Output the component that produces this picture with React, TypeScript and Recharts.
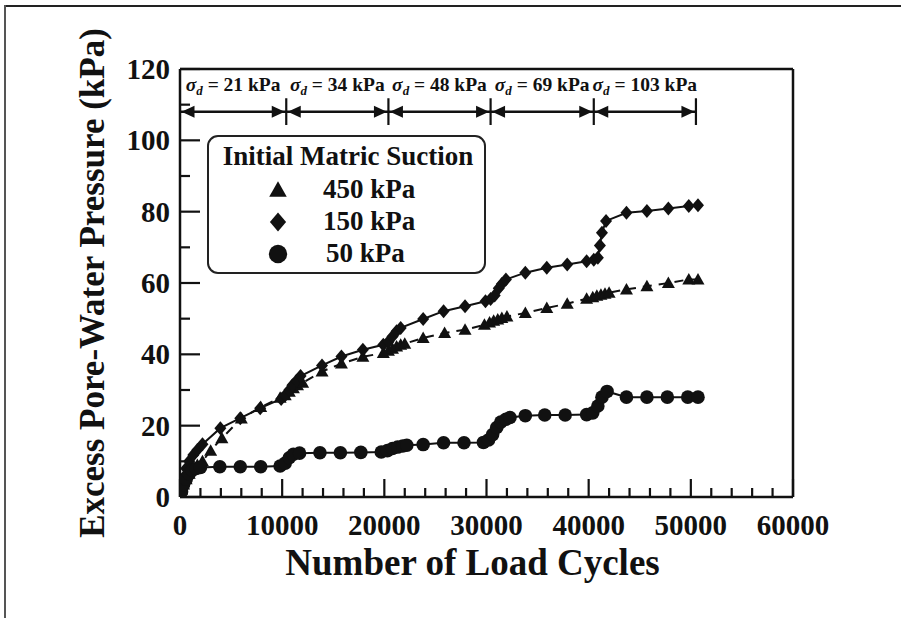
import React from 'react';
import {
  ComposedChart,
  Line,
  XAxis,
  YAxis,
  ReferenceLine,
  ReferenceDot,
  Legend,
} from 'recharts';

// 450 kPa initial matric suction (triangles, dashed)
const cycles450 = [0, 150, 350, 600, 900, 1300, 1700, 2200, 3000, 4100, 6000, 7900, 9800, 10300, 10700, 11100, 11500, 12000, 13900, 15800, 17900, 19900, 20400, 20800, 21200, 21600, 22000, 23800, 25900, 27900, 29800, 30300, 30700, 31100, 31500, 32000, 33800, 35900, 37900, 39800, 40400, 40800, 41200, 41600, 42000, 43700, 45700, 47800, 49800, 50700];
const pressure450 = [0, 2, 3.5, 5, 6.5, 8, 9, 10, 13, 16.5, 22, 25.2, 27.8, 28.5, 29.5, 30.5, 31.3, 32, 35.2, 37.4, 39.3, 40.4, 41, 41.6, 42.2, 42.7, 43, 44.6, 46, 46.9, 48.3, 48.9, 49.4, 49.8, 50.2, 50.6, 51.6, 53, 54.2, 55.6, 56, 56.4, 56.7, 57, 57.3, 58.2, 59.1, 60, 61, 61];

// 150 kPa (diamonds, solid)
const cycles150 = [0, 150, 350, 600, 900, 1300, 1700, 2200, 3950, 5900, 7850, 9900, 10300, 10700, 11000, 11400, 11800, 13900, 15800, 17900, 19900, 20400, 20800, 21200, 21600, 23800, 25800, 27900, 29900, 30400, 30800, 31200, 31500, 31900, 33800, 35900, 37900, 39800, 40500, 40900, 41100, 41300, 41700, 43700, 45700, 47800, 49800, 50700];
const pressure150 = [0, 3, 5.5, 8, 10, 11.8, 13.2, 14.8, 19.3, 22.1, 24.9, 27.5, 28.5, 30, 31.3, 32.6, 33.9, 36.9, 39.4, 41.3, 42.7, 43.5, 45, 46.5, 47.4, 49.9, 52.1, 53.5, 54.9, 55.5, 56.5, 58.5, 59.7, 61, 62.9, 64.3, 65.2, 66.1, 66.5, 67.1, 70.5, 74.1, 77.4, 79.7, 80.2, 80.9, 81.6, 81.8];

// 50 kPa (circles, solid)
const cycles50 = [0, 150, 350, 600, 900, 1200, 1600, 2000, 3900, 5900, 7900, 9800, 10300, 10700, 11100, 11700, 13700, 15700, 17700, 19700, 20300, 20800, 21300, 21800, 22200, 23800, 25800, 27800, 29700, 30200, 30600, 31000, 31400, 31900, 32300, 33800, 35700, 37700, 39800, 40400, 40900, 41300, 41800, 43700, 45700, 47700, 49700, 50700];
const pressure50 = [0, 1.5, 3.5, 5, 6.5, 7.5, 8, 8.3, 8.5, 8.5, 8.5, 8.7, 9.5, 11, 12, 12.3, 12.4, 12.4, 12.5, 12.6, 13, 13.6, 14, 14.3, 14.5, 14.7, 15.2, 15.2, 15.3, 16, 17.5, 19.5, 21, 21.8, 22.3, 22.8, 23, 23, 23.1, 23.6, 25.5, 28, 29.6, 28, 28, 28, 28, 28];

const seriesNames = ['450 kPa', '150 kPa', '50 kPa'];

// loading stages shown across the top
const stageBounds = [0, 10400, 20400, 30400, 40500, 50500];
const deviatorStress = ['21', '34', '48', '69', '103'];

const xMajorTicks = [0, 10000, 20000, 30000, 40000, 50000, 60000];
const xMinorTicks = [2000, 4000, 6000, 8000, 12000, 14000, 16000, 18000, 22000, 24000, 26000, 28000, 32000, 34000, 36000, 38000, 42000, 44000, 46000, 48000, 52000, 54000, 56000, 58000];
const yMajorTicks = [0, 20, 40, 60, 80, 100, 120];
const yMinorTicks = [10, 30, 50, 70, 90, 110];

const X_MAX = 60000;
const Y_MAX = 120;
// plot box is 613 x 428 px: minor tick lengths in axis units
const X_MINOR_LEN = (10 * X_MAX) / 613;
const Y_MINOR_LEN = (9 * Y_MAX) / 428;

const toPoints = (xs: number[], ys: number[]) => xs.map((x, i) => ({ cycles: x, pressure: ys[i] }));
const data450 = toPoints(cycles450, pressure450);
const data150 = toPoints(cycles150, pressure150);
const data50 = toPoints(cycles50, pressure50);

const FONT = "'Liberation Serif', 'Times New Roman', serif";
const INK = '#111';
const AXIS_LINE = { stroke: INK, strokeWidth: 2.5 };
const TICK_LINE = { stroke: INK, strokeWidth: 2.2 };

const Triangle = ({ cx, cy, s = 1 }: any) => (
  <path d={`M${cx},${cy - 6.5 * s}L${cx + 6.5 * s},${cy + 5 * s}L${cx - 6.5 * s},${cy + 5 * s}Z`} fill={INK} />
);
const Diamond = ({ cx, cy, s = 1 }: any) => (
  <path d={`M${cx},${cy - 7 * s}L${cx + 6 * s},${cy}L${cx},${cy + 7 * s}L${cx - 6 * s},${cy}Z`} fill={INK} />
);
const Circle = ({ cx, cy, s = 1 }: any) => <circle cx={cx} cy={cy} r={6.8 * s} fill={INK} />;

const markers = [Triangle, Diamond, Circle];
const dotOf = (Shape: any) => (p: any) => <Shape key={`d-${p.index}`} cx={p.cx} cy={p.cy} />;

const XTick = ({ x, y, payload }: any) => (
  <text x={x} y={y + 38} textAnchor="middle" fontFamily={FONT} fontWeight="bold" fontSize={29} fill={INK}>
    {payload.value}
  </text>
);
const YTick = ({ x, y, payload }: any) => (
  <text x={x - 10} y={y + 10} textAnchor="end" fontFamily={FONT} fontWeight="bold" fontSize={29} fill={INK}>
    {payload.value}
  </text>
);

const LegendBox = () => (
  <svg width={280} height={140} style={{ display: 'block' }}>
    <rect x={1} y={1} width={277} height={137} rx={10} fill="#fff" stroke="#222" strokeWidth={2} />
    <text x={141} y={30} textAnchor="middle" fontFamily={FONT} fontWeight="bold" fontSize={27} fill={INK}>
      Initial Matric Suction
    </text>
    {seriesNames.map((name, i) => {
      const Shape = markers[i];
      return (
        <g key={name}>
          <Shape cx={71} cy={55 + i * 32} s={1.35} />
          <text x={116 + (i === 2 ? 3 : 0)} y={63 + i * 32} fontFamily={FONT} fontWeight="bold" fontSize={27} fill={INK}>
            {name}
          </text>
        </g>
      );
    })}
  </svg>
);

const ArrowHead = ({ cx, cy, dir }: any) => {
  const tip = cx + dir * -1.5;
  return <path d={`M${tip},${cy}L${tip - dir * 13},${cy - 6}L${tip - dir * 13},${cy + 6}Z`} fill={INK} />;
};

const StageLabel = ({ cx, cy, stress }: any) => (
  <text x={cx} y={cy} textAnchor="middle" fontFamily={FONT} fontWeight="bold" fontSize={19.5} fill={INK}>
    <tspan fontStyle="italic">σ</tspan>
    <tspan fontStyle="italic" fontSize={13} dy={4}>d</tspan>
    <tspan dy={-4}>{` = ${stress} kPa`}</tspan>
  </text>
);

export default function App() {
  const arrowY = 108;
  return (
    <div style={{ position: 'absolute', left: 0, top: 0, width: 901, height: 618, background: '#fff' }}>
      <div style={{ position: 'absolute', left: 5, top: 5, right: 0, height: 2, background: '#222' }} />
      <div style={{ position: 'absolute', left: 4, top: 5, bottom: 0, width: 2, background: '#555' }} />
      <ComposedChart width={901} height={618} margin={{ top: 69, right: 108, bottom: 41, left: 0 }}>
        {/* main axes: inward major ticks, labels outside */}
        <XAxis
          type="number"
          dataKey="cycles"
          domain={[0, X_MAX]}
          ticks={xMajorTicks}
          interval={0}
          tickSize={-18}
          tickMargin={18}
          axisLine={AXIS_LINE}
          tickLine={TICK_LINE}
          tick={<XTick />}
          height={80}
          allowDataOverflow
          label={{
            content: ({ viewBox }: any) => (
              <text x={viewBox.x + viewBox.width / 2 - 14} y={viewBox.y + 78} textAnchor="middle" fontFamily={FONT} fontWeight="bold" fontSize={37} fill={INK}>
                Number of Load Cycles
              </text>
            ),
          }}
        />
        <YAxis
          type="number"
          domain={[0, Y_MAX]}
          ticks={yMajorTicks}
          interval={0}
          tickSize={-20}
          tickMargin={20}
          axisLine={AXIS_LINE}
          tickLine={TICK_LINE}
          tick={<YTick />}
          width={180}
          allowDataOverflow
          label={{
            content: ({ viewBox }: any) => {
              const cy = viewBox.y + viewBox.height / 2;
              return (
                <text x={104} y={cy} transform={`rotate(-90 104 ${cy})`} textAnchor="middle" fontFamily={FONT} fontWeight="bold" fontSize={35} fill={INK}>
                  Excess Pore-Water Pressure (kPa)
                </text>
              );
            },
          }}
        />
        {/* top and right of the frame */}
        <XAxis xAxisId="top" orientation="top" type="number" domain={[0, X_MAX]} mirror tick={false} tickLine={false} axisLine={AXIS_LINE} allowDataOverflow />
        <YAxis yAxisId="right" orientation="right" type="number" domain={[0, Y_MAX]} mirror tick={false} tickLine={false} axisLine={AXIS_LINE} allowDataOverflow />

        {/* minor inward ticks */}
        {xMinorTicks.map((t) => (
          <ReferenceLine key={`xm-${t}`} segment={[{ x: t, y: 0 }, { x: t, y: Y_MINOR_LEN }]} stroke={INK} strokeWidth={2.2} />
        ))}
        {yMinorTicks.map((t) => (
          <ReferenceLine key={`ym-${t}`} segment={[{ x: 0, y: t }, { x: X_MINOR_LEN, y: t }]} stroke={INK} strokeWidth={2.2} />
        ))}

        {/* loading stages */}
        {deviatorStress.map((s, i) => (
          <ReferenceLine
            key={`seg-${i}`}
            segment={[{ x: stageBounds[i], y: arrowY }, { x: stageBounds[i + 1], y: arrowY }]}
            stroke={INK}
            strokeWidth={2.5}
          />
        ))}
        {stageBounds.slice(1).map((b) => (
          <ReferenceLine key={`bar-${b}`} segment={[{ x: b, y: 104.3 }, { x: b, y: 111.8 }]} stroke={INK} strokeWidth={2.2} />
        ))}
        {deviatorStress.map((s, i) => (
          <ReferenceDot key={`l-${i}`} x={stageBounds[i]} y={arrowY} r={0} shape={(p: any) => <ArrowHead cx={p.cx} cy={p.cy} dir={-1} />} />
        ))}
        {deviatorStress.map((s, i) => (
          <ReferenceDot key={`r-${i}`} x={stageBounds[i + 1]} y={arrowY} r={0} shape={(p: any) => <ArrowHead cx={p.cx} cy={p.cy} dir={1} />} />
        ))}
        {deviatorStress.map((s, i) => (
          <ReferenceDot
            key={`t-${i}`}
            x={(stageBounds[i] + stageBounds[i + 1]) / 2}
            y={113.8}
            r={0}
            shape={(p: any) => <StageLabel cx={p.cx} cy={p.cy} stress={s} />}
          />
        ))}

        <Line data={data450} dataKey="pressure" name={seriesNames[0]} type="linear" stroke={INK} strokeWidth={2} strokeDasharray="9 7" dot={dotOf(Triangle)} isAnimationActive={false} />
        <Line data={data150} dataKey="pressure" name={seriesNames[1]} type="linear" stroke={INK} strokeWidth={2} dot={dotOf(Diamond)} isAnimationActive={false} />
        <Line data={data50} dataKey="pressure" name={seriesNames[2]} type="linear" stroke={INK} strokeWidth={2} dot={dotOf(Circle)} isAnimationActive={false} />
        <Legend
          layout="vertical"
          align="center"
          verticalAlign="middle"
          content={<LegendBox />}
          wrapperStyle={{ left: 207, top: 135, width: 280, height: 140 }}
        />
      </ComposedChart>
    </div>
  );
}
